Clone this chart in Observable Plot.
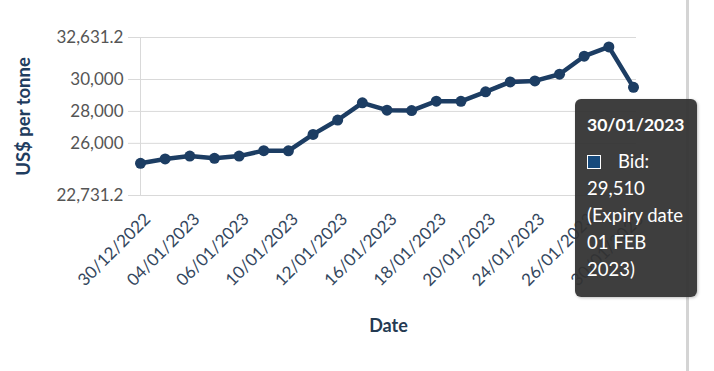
<!DOCTYPE html>
<html><head><meta charset="utf-8">
<script src="https://cdn.jsdelivr.net/npm/d3@7"></script>
<script src="https://cdn.jsdelivr.net/npm/@observablehq/plot@0.6"></script>
<style>
body{margin:0;background:#fff;font-family:Lato,sans-serif;}
#wrap{position:relative;width:714px;height:371px;overflow:hidden;}
#edge{position:absolute;left:686px;top:0;width:3px;height:371px;background:#d4d4d4;}
#tip{position:absolute;box-sizing:border-box;width:122px;height:198px;background:rgba(50,50,50,0.94);border-radius:6px;color:#fff;font-family:Lato,sans-serif;font-size:18.5px;line-height:27px;padding:12px 2px 0 12px;box-shadow:1px 1px 3px rgba(0,0,0,0.25);white-space:nowrap;}
#tip .t{font-weight:bold;font-size:17.5px;margin-bottom:10px;}
#tip .sq{display:inline-block;width:12px;height:12px;background:#174a7c;border:1.5px solid #fff;vertical-align:-1px;margin-right:17px;}
</style></head>
<body><div id="wrap"><div id="edge"></div></div>
<script>
const dates = ["30/12/2022","03/01/2023","04/01/2023","05/01/2023","06/01/2023","09/01/2023","10/01/2023","11/01/2023","12/01/2023","13/01/2023","16/01/2023","17/01/2023","18/01/2023","19/01/2023","20/01/2023","23/01/2023","24/01/2023","25/01/2023","26/01/2023","27/01/2023","30/01/2023"];
const bid = [24750,25020,25200,25060,25200,25540,25530,26560,27460,28540,28080,28050,28640,28630,29225,29850,29910,30330,31460,32040,29510];
const ask = [24790,25060,25240,25100,25240,25580,25570,26600,27500,28580,28130,28100,28690,28670,29280,29930,29960,30380,31520,32090,29540];
const tickLabels = ["30/12/2022","04/01/2023","06/01/2023","10/01/2023","12/01/2023","16/01/2023","18/01/2023","20/01/2023","24/01/2023","26/01/2023","30/01/2023"];
const yTicks = [22731.2,26000,28000,30000,32631.2];
const yDomain = [22731.2,32631.2];

const rowsBid = dates.map((d,i)=>({date:d,value:bid[i]}));
const rowsAsk = dates.map((d,i)=>({date:d,value:ask[i]}));

const navy = "#1c3d63";
const chart = Plot.plot({
  width:714, height:371,
  marginLeft:140, marginRight:78, marginTop:37, marginBottom:176,
  style:{fontFamily:"Lato, sans-serif", background:"#fff"},
  x:{type:"point", domain:dates, padding:0, round:false, insetRight:3},
  y:{domain:yDomain},
  marks:[
    Plot.gridY(yTicks,{stroke:"#d9d9d9", strokeOpacity:1}),
    Plot.axisY(yTicks,{tickSize:12, tickPadding:5, stroke:"#d9d9d9", fill:"#555", fontSize:17, tickFormat:d3.format(","), label:null}),
    Plot.axisX(tickLabels,{tickSize:0, tickRotate:-45, tickPadding:21, dx:7, fill:"#34475e", fontSize:17, label:null}),
    Plot.frame({anchor:"left", stroke:"#d9d9d9"}),
    Plot.text(["Date"],{frameAnchor:"bottom", dy:136, text:d=>d, fontWeight:"bold", fontSize:18, fill:"#243a52"}),
    Plot.text(["US$ per tonne"],{frameAnchor:"left", dx:-116, rotate:-90, textAnchor:"middle", text:d=>d, fontWeight:"bold", fontSize:18.5, fill:"#1f3d60"}),
    Plot.line(rowsAsk,{x:"date", y:"value", stroke:"#d5304f", strokeWidth:1.5}),
    Plot.line(rowsBid,{x:"date", y:"value", stroke:navy, strokeWidth:4.5}),
    Plot.dot(rowsBid,{x:"date", y:"value", r:5.5, fill:navy})
  ]
});
const wrap = document.getElementById("wrap");
chart.style.position="absolute"; chart.style.left="0"; chart.style.top="0";
wrap.insertBefore(chart, wrap.firstChild);
const last = dates.length-1;
const px = chart.scale("x").apply(dates[last]);
const py = chart.scale("y").apply(bid[last]);
const tip = document.createElement("div");
tip.id="tip";
tip.style.left=(px-58)+"px"; tip.style.top=(py+12)+"px";
tip.innerHTML = `<div class="t">${dates[last]}</div><div><span class="sq"></span>Bid:</div><div>${d3.format(",")(bid[last])}</div><div>(Expiry date</div><div>01 FEB</div><div>2023)</div>`;
wrap.appendChild(tip);
</script>
</body></html>
